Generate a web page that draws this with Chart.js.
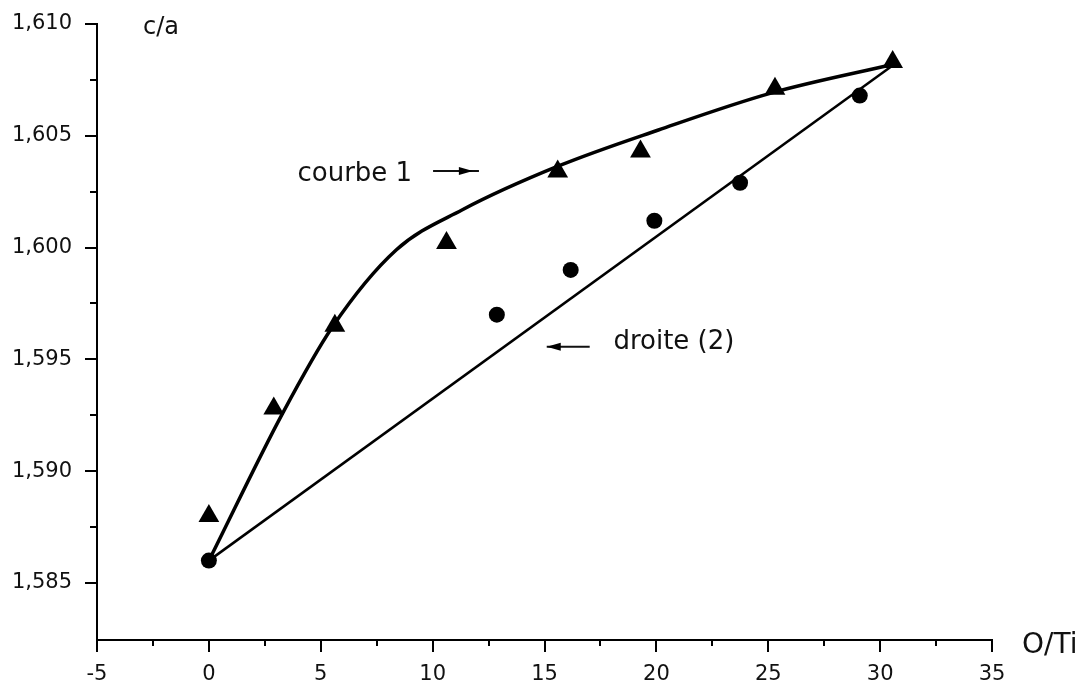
<!DOCTYPE html>
<html>
<head>
<meta charset="utf-8">
<title>c/a en fonction de O/Ti</title>
<script src="https://cdn.jsdelivr.net/npm/chart.js"></script>
<style>
    body {
        margin: 0;
        background: #fff;
    }
    #graph {
        display: block;
    }
</style>
</head>
<body>
<canvas id="graph" width="1091" height="689"></canvas>
<script>
// points mesures - triangles (courbe 1)
const triX = [0, 2.9, 5.63, 10.62, 15.59, 19.29, 25.3, 30.56];
const triY = [1.5880, 1.5928, 1.5965, 1.6002, 1.6034, 1.6043, 1.6071, 1.6083];

// points mesures - cercles
const dotX = [0, 12.87, 16.17, 19.91, 23.74, 29.09];
const dotY = [1.5860, 1.5970, 1.5990, 1.6012, 1.6029, 1.6068];

// courbe 1 (trace lisse)
const curveX = [0, 3.3, 5.52, 8.37, 11.31, 15.63, 20.09, 25.12, 30.65];
const curveY = [1.5860, 1.5926, 1.59645, 1.59989, 1.60168, 1.60365, 1.60526, 1.60691, 1.60821];

// droite (2)
const lineX = [0, 30.65];
const lineY = [1.5860, 1.60821];

// graduations principales
const xMajor = [-5, 0, 5, 10, 15, 20, 25, 30, 35];
const yMajor = [1.585, 1.590, 1.595, 1.600, 1.605, 1.610];

function withMinor(major) {
    const out = [];
    major.forEach((v, i) => {
        out.push(v);
        if (i < major.length - 1) out.push((v + major[i + 1]) / 2);
    });
    return out;
}
function isMajor(list, v) {
    return list.some(m => Math.abs(m - v) < 1e-9);
}
function pts(xs, ys) {
    return xs.map((x, i) => ({x: x, y: ys[i]}));
}

const FONT = '"DejaVu Sans", sans-serif';

// ticks, titres d'axes et annotations
const decor = {
    id: 'decor',
    afterDraw(chart) {
        const {ctx, scales: {x, y}} = chart;
        ctx.save();
        ctx.strokeStyle = '#000';
        ctx.lineWidth = 2;
        ctx.beginPath();
        x.ticks.forEach(t => {
            const px = Math.round(x.getPixelForValue(t.value));
            const len = isMajor(xMajor, t.value) ? 12 : 6;
            ctx.moveTo(px, x.top);
            ctx.lineTo(px, x.top + len);
        });
        y.ticks.forEach(t => {
            const py = Math.round(y.getPixelForValue(t.value));
            const len = isMajor(yMajor, t.value) ? 12 : 7;
            ctx.moveTo(y.right, py);
            ctx.lineTo(y.right - len, py);
        });
        ctx.stroke();

        ctx.fillStyle = '#111';
        ctx.textBaseline = 'alphabetic';
        ctx.textAlign = 'left';
        ctx.font = '24px ' + FONT;
        ctx.fillText('c/a', x.left + 46, y.top + 10);
        ctx.font = '28px ' + FONT;
        ctx.fillText('O/Ti', x.right + 30, x.top + 13);

        ctx.font = '26px ' + FONT;
        ctx.fillText('courbe 1', x.getPixelForValue(3.96), y.getPixelForValue(1.60299));
        ctx.fillText('droite (2)', x.getPixelForValue(18.08), y.getPixelForValue(1.59545));

        // fleches
        arrow(ctx, x.getPixelForValue(10.02), x.getPixelForValue(12.07), y.getPixelForValue(1.60343), x.getPixelForValue(11.8), 1);
        arrow(ctx, x.getPixelForValue(15.1), x.getPixelForValue(17.02), y.getPixelForValue(1.59557), x.getPixelForValue(15.1), -1);
        ctx.restore();
    }
};

function arrow(ctx, x1, x2, yy, tip, dir) {
    ctx.lineWidth = 2;
    ctx.strokeStyle = '#111';
    ctx.beginPath();
    ctx.moveTo(x1, yy);
    ctx.lineTo(x2, yy);
    ctx.stroke();
    ctx.fillStyle = '#000';
    ctx.beginPath();
    ctx.moveTo(tip, yy);
    ctx.lineTo(tip - dir * 14, yy - 4);
    ctx.lineTo(tip - dir * 14, yy + 4);
    ctx.closePath();
    ctx.fill();
}

new Chart(document.getElementById('graph'), {
    type: 'scatter',
    data: {
        datasets: [
            {
                label: 'triangles',
                data: pts(triX, triY),
                pointStyle: 'triangle',
                pointRadius: 12,
                backgroundColor: '#000',
                borderColor: '#000',
                borderWidth: 0
            },
            {
                label: 'cercles',
                data: pts(dotX, dotY),
                pointStyle: 'circle',
                pointRadius: 8,
                backgroundColor: '#000',
                borderColor: '#000',
                borderWidth: 0
            },
            {
                label: 'courbe 1',
                data: pts(curveX, curveY),
                showLine: true,
                cubicInterpolationMode: 'monotone',
                borderColor: '#000',
                borderWidth: 3.5,
                pointRadius: 0
            },
            {
                label: 'droite (2)',
                data: pts(lineX, lineY),
                showLine: true,
                borderColor: '#000',
                borderWidth: 2.5,
                pointRadius: 0
            }
        ]
    },
    plugins: [decor],
    options: {
        responsive: false,
        devicePixelRatio: 1,
        animation: false,
        layout: {padding: {left: 0, right: 99, top: 24, bottom: 0}},
        plugins: {
            legend: {display: false},
            tooltip: {enabled: false}
        },
        scales: {
            x: {
                type: 'linear',
                min: -5,
                max: 35,
                afterBuildTicks: s => { s.ticks = withMinor(xMajor).map(v => ({value: v})); },
                afterFit: s => {
                    s.height = 49;
                    s.paddingLeft = 0;
                    s.paddingRight = 0;
                },
                grid: {display: false, drawTicks: false},
                border: {display: true, color: '#000', width: 2},
                ticks: {
                    autoSkip: false,
                    maxRotation: 0,
                    padding: 22,
                    color: '#111',
                    font: {family: FONT, size: 21},
                    callback: v => isMajor(xMajor, v) ? String(v) : ''
                }
            },
            y: {
                type: 'linear',
                min: 1.58245,
                max: 1.610,
                afterBuildTicks: s => { s.ticks = withMinor(yMajor).map(v => ({value: v})); },
                afterFit: s => {
                    s.width = 97;
                    s.paddingTop = 0;
                    s.paddingBottom = 0;
                },
                grid: {display: false, drawTicks: false},
                border: {display: true, color: '#000', width: 2},
                ticks: {
                    autoSkip: false,
                    padding: 25,
                    color: '#111',
                    font: {family: FONT, size: 21},
                    callback: v => isMajor(yMajor, v) ? v.toFixed(3).replace('.', ',') : ''
                }
            }
        }
    }
});
</script>
</body>
</html>
